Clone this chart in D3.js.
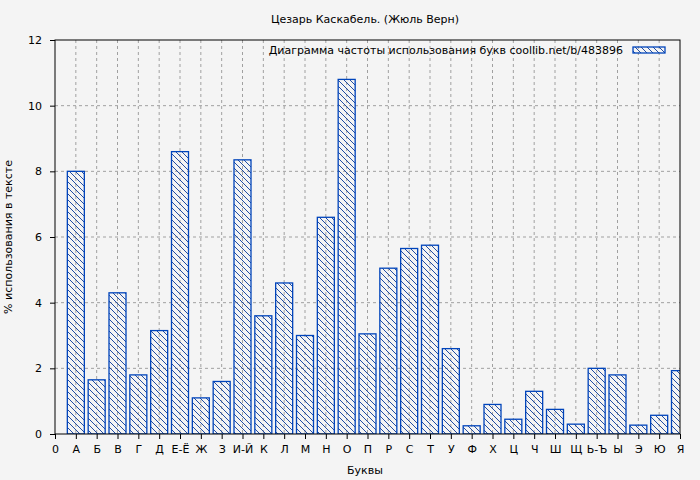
<!DOCTYPE html>
<html><head><meta charset="utf-8">
<script src="https://cdn.jsdelivr.net/npm/d3@7"></script>
<style>body{margin:0;background:#f4f4f4}svg{font-family:"DejaVu Sans",sans-serif}</style>
</head><body><svg id="c" width="700" height="480"></svg>
<script>
const letters = ["А","Б","В","Г","Д","Е-Ё","Ж","З","И-Й","К","Л","М","Н","О","П","Р","С","Т","У","Ф","Х","Ц","Ч","Ш","Щ","Ь-Ъ","Ы","Э","Ю","Я"];
const percents = [8.0,1.65,4.3,1.8,3.15,8.6,1.1,1.6,8.35,3.6,4.6,3.0,6.6,10.8,3.05,5.05,5.65,5.75,2.6,0.25,0.9,0.45,1.3,0.75,0.3,2.0,1.8,0.27,0.57,1.93];
const yTicks = [0,2,4,6,8,10,12];

const svg = d3.select("#c");
const m = {l:55, r:680, t:40, b:434};
const x = d3.scaleLinear().domain([0, letters.length]).range([m.l, m.r]);
const y = d3.scaleLinear().domain([0, 12]).range([m.b, m.t]);
const bw = 17;

const defs = svg.append("defs");
const pat = defs.append("pattern").attr("id","hatch").attr("patternUnits","userSpaceOnUse")
  .attr("width",6).attr("height",6);
pat.append("path").attr("d","M0,0L6,6M-3,3L3,9M3,-3L9,3").attr("stroke","#0a3a9a").attr("stroke-width",0.9);
defs.append("clipPath").attr("id","clip").append("rect")
  .attr("x",m.l).attr("y",m.t).attr("width",m.r-m.l).attr("height",m.b-m.t);

// grid
const grid = svg.append("g").attr("stroke","#a0a0a0").attr("stroke-dasharray","3,3").attr("stroke-width",1);
d3.range(1, letters.length).forEach(i => grid.append("line")
  .attr("x1",x(i)).attr("x2",x(i)).attr("y1",m.t).attr("y2",m.b));
yTicks.slice(1,-1).forEach(v => grid.append("line")
  .attr("x1",m.l).attr("x2",m.r).attr("y1",y(v)).attr("y2",y(v)));

svg.append("g").attr("clip-path","url(#clip)").selectAll("rect").data(percents).join("rect")
  .attr("x",(d,i)=>x(i+1)-bw/2).attr("y",d=>y(d))
  .attr("width",bw).attr("height",d=>y(0)-y(d))
  .attr("fill","url(#hatch)").attr("stroke","#0044bb").attr("stroke-width",1.3);

svg.append("rect").attr("x",m.l).attr("y",m.t).attr("width",m.r-m.l).attr("height",m.b-m.t)
  .attr("fill","none").attr("stroke","#000");

const xa = svg.append("g").attr("transform",`translate(0,${m.b})`)
  .call(d3.axisBottom(x).tickValues(d3.range(0, letters.length+1))
    .tickFormat(i => i === 0 ? "0" : letters[i-1]).tickSize(5).tickPadding(6));
const ya = svg.append("g").attr("transform",`translate(${m.l},0)`)
  .call(d3.axisLeft(y).tickValues(yTicks).tickSize(5).tickPadding(8));
[xa, ya].forEach(a => {
  a.select(".domain").remove();
  a.selectAll("text").attr("font-size",11).attr("fill","#000").attr("font-family","DejaVu Sans");
});

svg.append("text").attr("x",365).attr("y",23).attr("text-anchor","middle").attr("font-size",11).text("Цезарь Каскабель. (Жюль Верн)");
svg.append("text").attr("x",365).attr("y",474).attr("text-anchor","middle").attr("font-size",11).text("Буквы");
svg.append("text").attr("transform","translate(12,237) rotate(-90)").attr("text-anchor","middle").attr("font-size",11).text("% использования в тексте");

svg.append("text").attr("x",623).attr("y",54).attr("text-anchor","end").attr("font-size",11)
  .text("Диаграмма частоты использования букв  coollib.net/b/483896");
svg.append("rect").attr("x",633).attr("y",47).attr("width",32).attr("height",6)
  .attr("fill","url(#hatch)").attr("stroke","#0044bb").attr("stroke-width",1.3);
</script></body></html>
